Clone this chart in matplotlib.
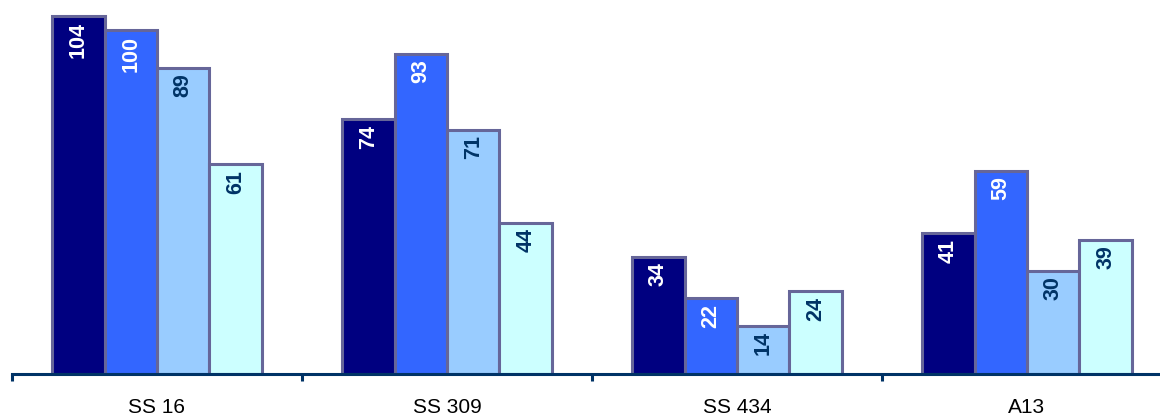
import matplotlib
matplotlib.use('Agg')
from matplotlib import pyplot as plt
import numpy as np

plt.rcParams['font.family'] = ['Liberation Sans', 'DejaVu Sans']

# data
categories = ['SS 16', 'SS 309', 'SS 434', 'A13']
s1 = [104, 74, 34, 41]
s2 = [100, 93, 22, 59]
s3 = [89, 71, 14, 30]
s4 = [61, 44, 24, 39]

series = [s1, s2, s3, s4]
colors = ['#000080', '#3366FF', '#99CCFF', '#CCFFFF']
text_colors = ['white', 'white', '#003366', '#003366']

fig = plt.figure(figsize=(11.6, 4.16), dpi=100)
ax = fig.add_axes([12 / 1160, 42 / 416, 1 - 12 / 1160, 374 / 416])

x = np.arange(len(categories))
w = 0.181
offsets = [-1.5 * w, -0.5 * w, 0.5 * w, 1.5 * w]
for vals, off, c, tc in zip(series, offsets, colors, text_colors):
    bars = ax.bar(x + off, vals, width=w, color=c, edgecolor='#666699', linewidth=2.2, zorder=2)
    for b, v in zip(bars, vals):
        ax.annotate(str(v), (b.get_x() + b.get_width() / 2, v), xytext=(0, -4),
                    textcoords='offset points', ha='center', va='top', rotation=90,
                    color=tc, fontsize=15.5, fontweight='bold')

for s in ['top', 'right', 'left']:
    ax.spines[s].set_visible(False)
ax.spines['bottom'].set_color('#003366')
ax.spines['bottom'].set_linewidth(2.2)
ax.spines['bottom'].set_zorder(3)
ax.set_yticks([])

ax.set_xticks(np.arange(len(categories) + 1) - 0.5)
ax.set_xticklabels([])
ax.tick_params(axis='x', which='major', direction='out', length=5, width=2.2, color='#003366')
ax.set_xticks(x, minor=True)
ax.set_xticklabels(categories, minor=True, fontsize=15)
ax.tick_params(axis='x', which='minor', length=0, pad=17)

# limits last, so the ticks do not widen them
ax.set_xlim(-0.5, (1160 - 12) / 290 - 0.5)
ax.set_ylim(0, 374 / 3.44)

fig.savefig('out.png', dpi=100)
